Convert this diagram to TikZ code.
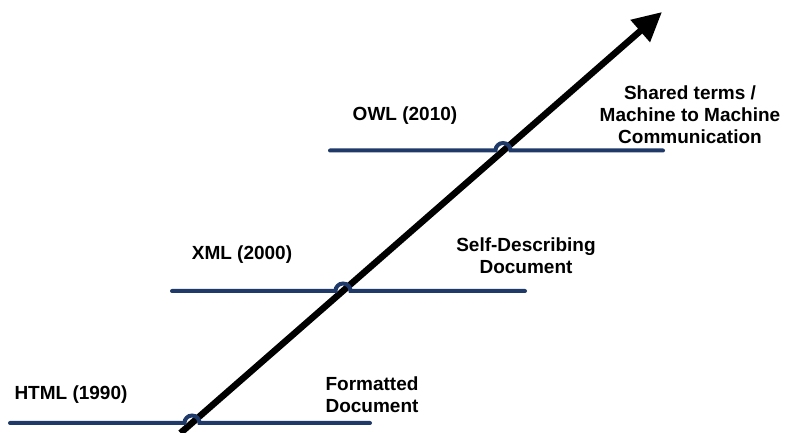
\documentclass[tikz,border=0pt]{standalone}
\usepackage{fontspec}
\setmainfont{Liberation Sans}
\usetikzlibrary{arrows.meta,calc}
\definecolor{lineblue}{RGB}{31,58,104}
\begin{document}
\begin{tikzpicture}[x=1pt,y=1pt,
  label/.style={font=\fontsize{19}{22}\selectfont\bfseries, align=center, inner sep=0pt},
  era/.style={draw=lineblue, line width=4pt, line cap=round},
  timeline/.style={draw=black, line width=6.5pt, -{Triangle[length=29pt,width=28pt]}}]
  \useasboundingbox (0,0) rectangle (785,433);
  % main arrow
  \coordinate (start) at (180.5,0);
  \coordinate (tip) at (662,421);
  \draw[timeline] (start) -- (tip);
  % era lines with hops over the arrow
  \coordinate (l1) at (10,10);   \coordinate (x1) at (192,10);  \coordinate (r1) at (370,10);
  \coordinate (l2) at (172,142); \coordinate (x2) at (343,142); \coordinate (r2) at (525,142);
  \coordinate (l3) at (330,282.5); \coordinate (x3) at (503,282.5); \coordinate (r3) at (663,282.5);
  \foreach \i in {1,2,3}{
    \draw[era] (l\i) -- ([xshift=-7.5pt]x\i) arc[start angle=180,end angle=0,radius=7.5pt] -- (r\i);
  }
  % labels
  \node[label] (html) at (71,38) {HTML (1990)};
  \node[label] (fmt) at (372,38) {Formatted\\Document};
  \node[label] (xml) at (242,178) {XML (2000)};
  \node[label] (self) at (526,177) {Self-Describing\\Document};
  \node[label] (owl) at (405,317) {OWL (2010)};
  \node[label] (shared) at (690,318) {Shared terms /\\Machine to Machine\\Communication};
\end{tikzpicture}
\end{document}
